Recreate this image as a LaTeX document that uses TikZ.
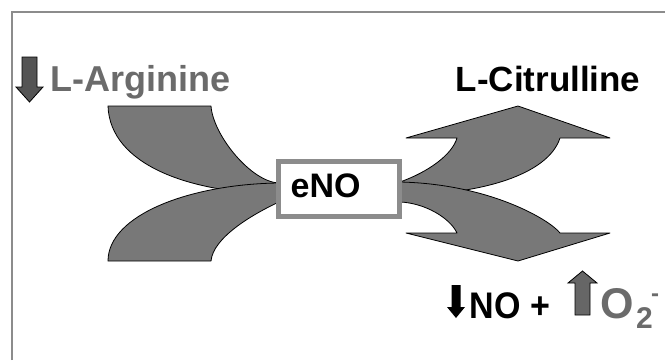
\documentclass[tikz,border=0pt]{standalone}
\usepackage{fontspec}
\setmainfont{Liberation Sans}
\definecolor{bandgray}{gray}{0.47}
\definecolor{textgray}{gray}{0.42}
\definecolor{darkarrow}{gray}{0.33}
\definecolor{upgray}{gray}{0.40}
\definecolor{framegray}{gray}{0.55}
\begin{document}
\begin{tikzpicture}[x=1pt,y=-1pt,
  band/.style={fill=bandgray, draw=black, line width=0.8pt, line join=round},
  arrowshape/.style={draw=black, line width=0.8pt},
  lbl/.style={inner sep=0pt, anchor=base west, font=\bfseries},
  enobox/.style={draw=framegray, line width=5pt, fill=white, minimum width=121pt, minimum height=54.5pt, inner sep=0pt}]
\useasboundingbox (0,0) rectangle (665,360);
% frame
\draw[framegray, line width=2pt] (12,360) -- (12,12) -- (665,12);
% left bands
\path[band] (108,106) -- (211,106) .. controls (213,135) and (251,182) .. (279,183)
  -- (279,194) .. controls (190,193) and (110,165) .. (108,106) -- cycle;
\path[band] (108,261) -- (211,261) .. controls (213,238) and (251,215) .. (279,202)
  -- (279,183) .. controls (190,184) and (108,215) .. (108,261) -- cycle;
% right arrows
\path[band] (400,182) .. controls (428,172) and (452,155) .. (457,138)
  -- (406,138) -- (518,106) -- (610,138) -- (560,138)
  .. controls (548,175) and (480,195) .. (400,195) -- cycle;
\path[band] (400,202) .. controls (425,203) and (450,218) .. (457,233)
  -- (406,233) -- (518,261) -- (610,233) -- (560,233)
  .. controls (550,220) and (490,184) .. (400,182) -- cycle;
% central box
\node[enobox] (box) at (339,188.75) {};
\node[lbl, font=\bfseries\fontsize{34}{38}\selectfont] (eno) at (290.5,197) {eNO};
% top labels
\path[arrowshape, fill=darkarrow] (22,57) -- (37,57) -- (37,87) -- (43,87) -- (29.5,102) -- (16,87) -- (22,87) -- cycle;
\node[lbl, text=textgray, font=\bfseries\fontsize{36}{40}\selectfont] (arg) at (50.5,91) {L-Arginine};
\node[lbl, font=\bfseries\fontsize{35}{40}\selectfont] (cit) at (455.5,91) {L-Citrulline};
% bottom label
\path[fill=black] (451.5,285) -- (460.5,285) -- (460.5,307) -- (465,307) -- (456,318) -- (447,307) -- (451.5,307) -- cycle;
\node[lbl, font=\bfseries\fontsize{37}{40}\selectfont] (no) at (469.5,318) {\scalebox{0.92}[1]{NO +}};
\path[arrowshape, fill=upgray] (575,315) -- (590,315) -- (590,283) -- (597,283) -- (582.5,271) -- (568,283) -- (575,283) -- cycle;
\node[lbl, text=textgray, font=\bfseries\fontsize{43}{46}\selectfont] (o) at (600,318) {O};
\node[lbl, text=textgray, font=\bfseries\fontsize{30}{34}\selectfont] (two) at (636,328) {2};
\node[lbl, text=textgray, font=\bfseries\fontsize{24}{28}\selectfont] (minus) at (651,301) {-};
\end{tikzpicture}
\end{document}
